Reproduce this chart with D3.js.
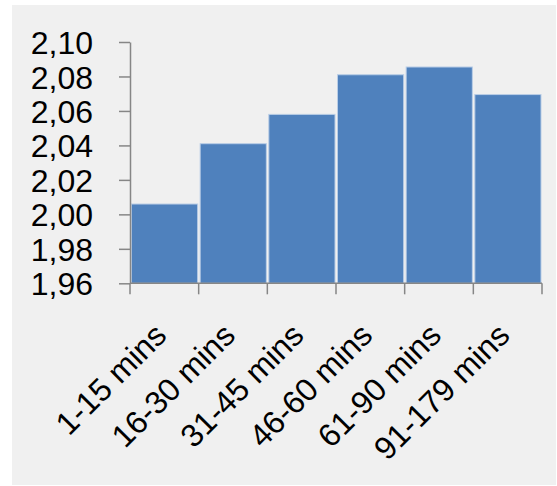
<!DOCTYPE html>
<html>
<head>
<meta charset="utf-8">
<script src="https://cdn.jsdelivr.net/npm/d3@7"></script>
<style>
  html, body { margin: 0; padding: 0; background: #ffffff; }
  svg { display: block; }
</style>
</head>
<body>
<svg id="chart" width="557" height="486"></svg>
<script>
// Duration groups and their mean values
const categories = ["1-15 mins", "16-30 mins", "31-45 mins", "46-60 mins", "61-90 mins", "91-179 mins"];
const values = [2.006, 2.041, 2.058, 2.081, 2.0855, 2.0695];
const yTicks = [1.96, 1.98, 2.00, 2.02, 2.04, 2.06, 2.08, 2.10];

const svg = d3.select("#chart");
const W = 557, H = 486;
const font = "'Liberation Sans', Arial, sans-serif";

// chart area background
svg.append("rect")
  .attr("x", 12).attr("y", 5)
  .attr("width", W - 13).attr("height", H - 6)
  .attr("fill", "#f0f0f0");

const plot = { left: 130, right: 542, top: 42, bottom: 283.3 };

const x = d3.scaleBand()
  .domain(categories)
  .range([plot.left, plot.right])
  .paddingInner(0).paddingOuter(0);

const y = d3.scaleLinear()
  .domain([1.96, 2.10])
  .range([plot.bottom, plot.top]);

const fmt = v => d3.format(".2f")(v).replace(".", ",");

// bars
svg.append("g")
  .selectAll("rect")
  .data(values)
  .join("rect")
  .attr("x", (d, i) => x(categories[i]) + 1.5)
  .attr("y", d => y(d))
  .attr("width", x.bandwidth() - 2.5)
  .attr("height", d => y(1.96) - y(d))
  .attr("fill", "#4f81bd")
  .attr("stroke", "#b9cde6")
  .attr("stroke-width", 1);

// y axis
const yAxis = svg.append("g")
  .attr("transform", `translate(${plot.left},0)`)
  .call(d3.axisLeft(y).tickValues(yTicks).tickFormat(fmt).tickSize(11).tickSizeOuter(0));
yAxis.select(".domain").attr("stroke", "#868686").attr("stroke-width", 1.5);
yAxis.selectAll(".tick line").attr("stroke", "#868686").attr("stroke-width", 1.5);
yAxis.selectAll(".tick text")
  .attr("x", -37)
  .attr("dy", "0.36em")
  .attr("fill", "#000")
  .style("font-family", font)
  .style("font-size", "32px");

// x axis: ticks on band boundaries
const xAxisG = svg.append("g");
xAxisG.append("line")
  .attr("x1", plot.left).attr("x2", plot.right)
  .attr("y1", plot.bottom).attr("y2", plot.bottom)
  .attr("stroke", "#868686").attr("stroke-width", 1.5);
const edges = categories.map(c => x(c)).concat([x(categories[categories.length - 1]) + x.bandwidth()]);
xAxisG.selectAll("line.tk")
  .data(edges)
  .join("line")
  .attr("class", "tk")
  .attr("x1", d => d).attr("x2", d => d)
  .attr("y1", plot.bottom).attr("y2", plot.bottom + 11)
  .attr("stroke", "#868686").attr("stroke-width", 1.5);

// rotated category labels
xAxisG.selectAll("text")
  .data(categories)
  .join("text")
  .attr("transform", d => `translate(${x(d) + x.bandwidth() / 2 + 4},${plot.bottom + 54}) rotate(-45)`)
  .attr("text-anchor", "end")
  .attr("fill", "#000")
  .style("font-family", font)
  .style("font-size", "32px")
  .text(d => d);
</script>
</body>
</html>
